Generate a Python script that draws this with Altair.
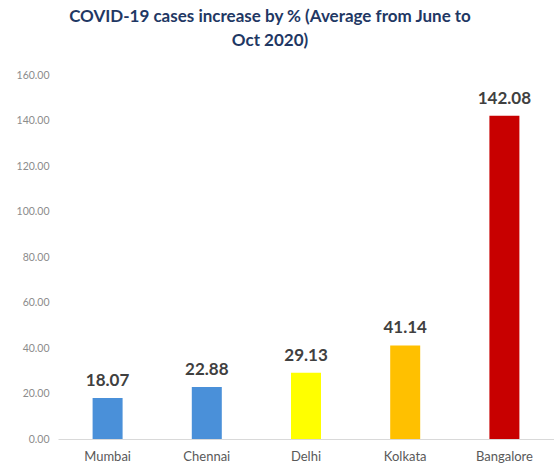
import altair as alt
import pandas as pd

cities = ["Mumbai", "Chennai", "Delhi", "Kolkata", "Bangalore"]
increase_pct = [18.07, 22.88, 29.13, 41.14, 142.08]
bar_colors = ["#4A90D9", "#4A90D9", "#FFFF00", "#FFC000", "#C80000"]
y_ticks = [0, 20, 40, 60, 80, 100, 120, 140, 160]

df = pd.DataFrame({"city": cities, "pct": increase_pct, "color": bar_colors})

FONT = "Lato"

x = alt.X(
    "city:N",
    sort=cities,
    title=None,
    scale=alt.Scale(paddingInner=0, paddingOuter=0),
    axis=alt.Axis(labelAngle=0),
)

y = alt.Y(
    "pct:Q",
    title=None,
    scale=alt.Scale(domain=[0, 160], nice=False),
    axis=alt.Axis(values=y_ticks, format=".2f"),
)

bars = alt.Chart(df).mark_bar(size=30).encode(
    x=x,
    y=y,
    color=alt.Color("color:N", scale=None),
)

labels = alt.Chart(df).mark_text(
    baseline="bottom",
    dy=-8,
    fontSize=17,
    fontWeight="bold",
    font=FONT,
    color="#404040",
).encode(
    x=alt.X("city:N", sort=cities),
    y=alt.Y("pct:Q"),
    text=alt.Text("pct:Q", format=".2f"),
)

chart = (
    alt.layer(bars, labels)
    .properties(
        width=496,
        height=364,
        background="white",
        title=alt.Title(
            ["COVID-19 cases increase by % (Average from June to", "Oct 2020)"],
            font=FONT,
            fontSize=17,
            fontWeight="bold",
            color="#1F3864",
            anchor="middle",
            dx=-36,
            offset=20,
            lineHeight=24,
        ),
        autosize=alt.AutoSizeParams(type="none"),
        padding={"left": 58, "top": 75, "right": 0, "bottom": 29},
    )
    .configure_view(stroke=None)
    .configure_axisX(
        ticks=False,
        grid=False,
        domainColor="#D9D9D9",
        labelColor="#595959",
        labelFontSize=13,
        labelFont=FONT,
        labelPadding=11,
    )
    .configure_axisY(
        grid=False,
        ticks=False,
        domain=False,
        labelColor="#8C8C8C",
        labelFontSize=10.5,
        labelFont=FONT,
        labelPadding=9,
    )
)

chart.save("out.html", embed_options={"renderer": "svg", "actions": False})
